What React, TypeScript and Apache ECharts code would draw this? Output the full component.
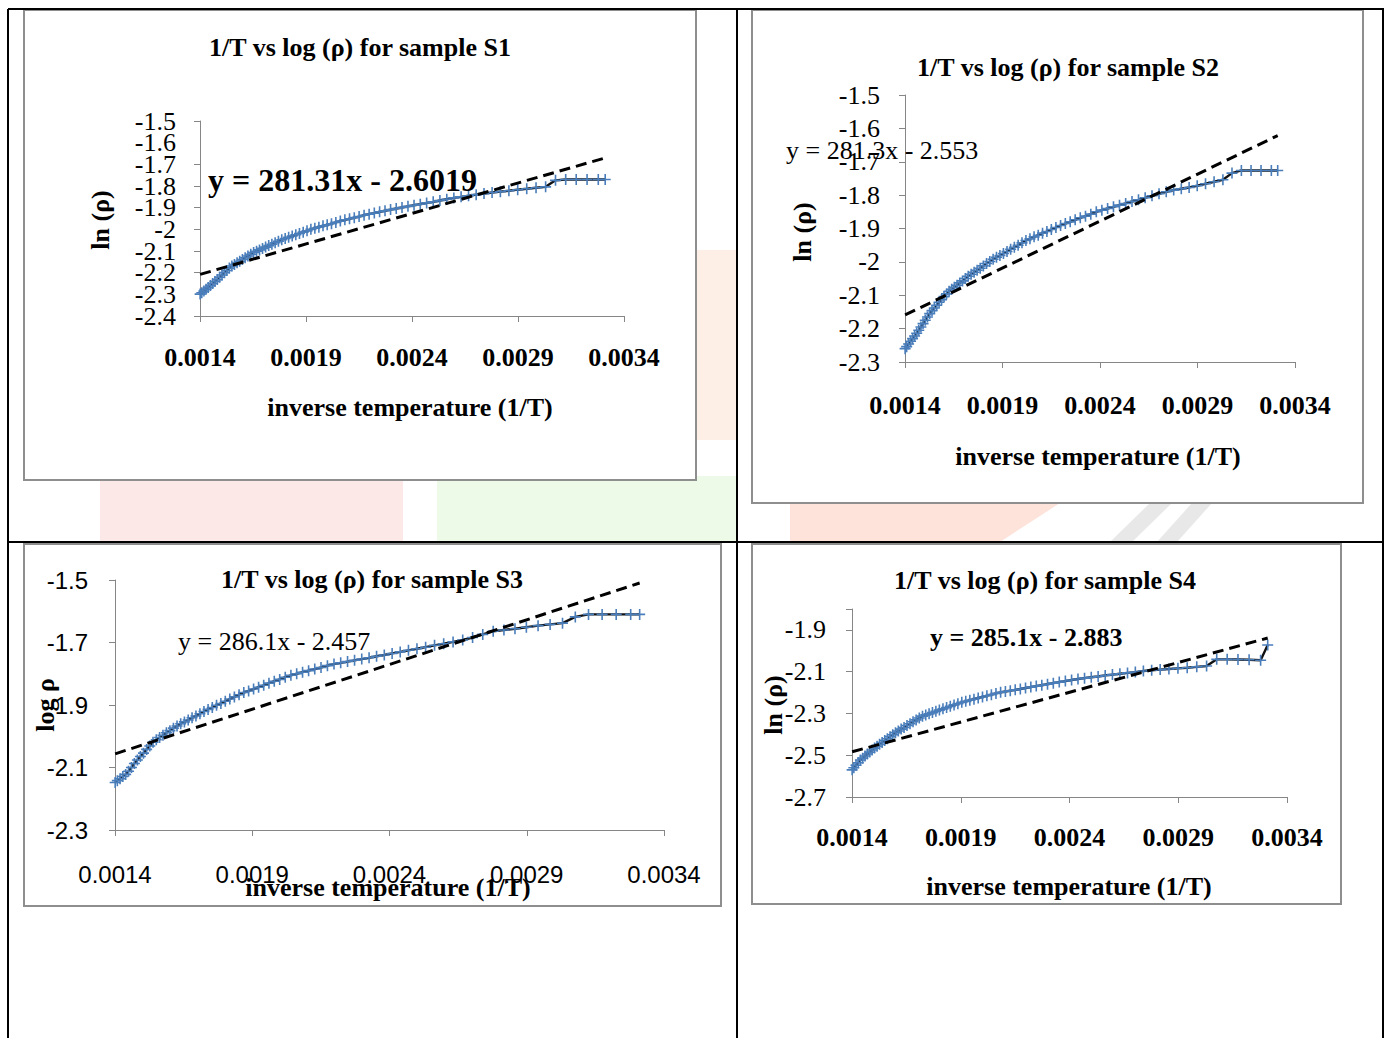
import React, { useEffect, useRef } from "react";
import * as echarts from "echarts";

// inverse temperature samples (1/T), shared by all four samples
const xInv = [
  0.0014006, 0.0014085, 0.0014184, 0.0014286, 0.0014388, 0.0014493, 0.0014599, 0.0014706, 0.0014815, 0.0014925,
  0.0015038, 0.0015152, 0.0015267, 0.0015385, 0.0015504, 0.0015625, 0.0015748, 0.0015873, 0.0016, 0.0016129,
  0.001626, 0.0016393, 0.0016529, 0.0016667, 0.0016807, 0.0016949, 0.0017094, 0.0017241, 0.0017391, 0.0017544,
  0.0017699, 0.0017857, 0.0018018, 0.0018182, 0.0018349, 0.0018519, 0.0018692, 0.0018868, 0.0019048, 0.0019231,
  0.0019417, 0.0019608, 0.0019802, 0.002, 0.0020202, 0.0020408, 0.0020619, 0.0020833, 0.0021053, 0.0021277,
  0.0021505, 0.0021739, 0.0021978, 0.0022222, 0.0022472, 0.0022727, 0.0022989, 0.0023256, 0.0023529, 0.002381,
  0.0024096, 0.002439, 0.0024691, 0.0025, 0.0025316, 0.0025641, 0.0025974, 0.0026316, 0.0026667, 0.0027027,
  0.0027397, 0.0027778, 0.0028169, 0.0028571, 0.0028986, 0.0029412, 0.0029851, 0.0030303, 0.0030769, 0.003125,
  0.0031746, 0.0032258, 0.0032787, 0.0033113,
];

const s1Y = [
  -2.299, -2.293, -2.285, -2.276, -2.268, -2.259, -2.25, -2.241, -2.232, -2.221,
  -2.211, -2.2, -2.19, -2.179, -2.169, -2.162, -2.154, -2.147, -2.139, -2.131,
  -2.123, -2.115, -2.107, -2.101, -2.095, -2.088, -2.082, -2.075, -2.069, -2.062,
  -2.055, -2.048, -2.042, -2.037, -2.031, -2.025, -2.019, -2.013, -2.007, -2.0,
  -1.995, -1.99, -1.984, -1.979, -1.974, -1.968, -1.962, -1.956, -1.951, -1.946,
  -1.941, -1.935, -1.93, -1.925, -1.919, -1.914, -1.909, -1.904, -1.899, -1.894,
  -1.889, -1.884, -1.878, -1.873, -1.867, -1.861, -1.855, -1.85, -1.845, -1.84,
  -1.835, -1.83, -1.826, -1.822, -1.817, -1.813, -1.808, -1.804, -1.774, -1.77,
  -1.77, -1.77, -1.77, -1.77,
];

const s2Y = [
  -2.26, -2.254, -2.246, -2.238, -2.23, -2.222, -2.214, -2.205, -2.195, -2.185,
  -2.175, -2.165, -2.155, -2.146, -2.138, -2.13, -2.121, -2.113, -2.104, -2.096,
  -2.088, -2.082, -2.076, -2.07, -2.063, -2.057, -2.05, -2.043, -2.037, -2.031,
  -2.025, -2.019, -2.012, -2.005, -1.999, -1.992, -1.986, -1.981, -1.975, -1.969,
  -1.962, -1.956, -1.95, -1.943, -1.936, -1.931, -1.925, -1.92, -1.914, -1.909,
  -1.903, -1.897, -1.891, -1.885, -1.88, -1.874, -1.868, -1.863, -1.857, -1.85,
  -1.845, -1.84, -1.835, -1.83, -1.825, -1.819, -1.814, -1.808, -1.802, -1.796,
  -1.79, -1.785, -1.781, -1.777, -1.772, -1.766, -1.76, -1.754, -1.734, -1.726,
  -1.726, -1.726, -1.726, -1.726,
];

const s3Y = [
  -2.148, -2.142, -2.136, -2.129, -2.122, -2.112, -2.1, -2.087, -2.076, -2.065,
  -2.054, -2.042, -2.031, -2.019, -2.011, -2.004, -1.997, -1.989, -1.982, -1.974,
  -1.967, -1.96, -1.954, -1.948, -1.941, -1.935, -1.928, -1.921, -1.914, -1.908,
  -1.901, -1.895, -1.888, -1.881, -1.874, -1.867, -1.86, -1.855, -1.849, -1.843,
  -1.837, -1.83, -1.824, -1.818, -1.811, -1.805, -1.8, -1.795, -1.79, -1.785,
  -1.78, -1.774, -1.769, -1.765, -1.761, -1.757, -1.753, -1.749, -1.744, -1.74,
  -1.735, -1.73, -1.725, -1.72, -1.715, -1.709, -1.704, -1.698, -1.692, -1.684,
  -1.674, -1.664, -1.66, -1.656, -1.651, -1.646, -1.642, -1.638, -1.618, -1.61,
  -1.61, -1.61, -1.61, -1.61,
];

const s4Y = [
  -2.57, -2.56, -2.548, -2.536, -2.523, -2.514, -2.504, -2.494, -2.485, -2.475,
  -2.466, -2.457, -2.448, -2.439, -2.43, -2.421, -2.411, -2.402, -2.392, -2.384,
  -2.375, -2.367, -2.358, -2.349, -2.34, -2.331, -2.322, -2.313, -2.307, -2.302,
  -2.296, -2.29, -2.284, -2.278, -2.272, -2.266, -2.259, -2.253, -2.247, -2.242,
  -2.237, -2.232, -2.226, -2.221, -2.215, -2.21, -2.204, -2.199, -2.195, -2.191,
  -2.187, -2.183, -2.178, -2.174, -2.169, -2.165, -2.16, -2.155, -2.15, -2.145,
  -2.14, -2.135, -2.131, -2.127, -2.123, -2.118, -2.114, -2.11, -2.106, -2.102,
  -2.097, -2.093, -2.09, -2.087, -2.084, -2.081, -2.077, -2.073, -2.041, -2.041,
  -2.042, -2.043, -2.045, -1.972,
];

// linear trend lines shown in the chart
const trendSlope = [281.31, 281.3, 286.1, 285.1];
const trendIntercept = [-2.6019, -2.553, -2.457, -2.883];

const titles = [
  "1/T vs log (ρ) for sample S1",
  "1/T vs log (ρ) for sample S2",
  "1/T vs log (ρ) for sample S3",
  "1/T vs log (ρ) for sample S4",
];
const equations = ["y = 281.31x - 2.6019", "y = 281.3x - 2.553", "y = 286.1x - 2.457", "y = 285.1x - 2.883"];
const yNames = ["ln (ρ)", "ln (ρ)", "log ρ", "ln (ρ)"];
const xName = "inverse temperature (1/T)";

const xMin = 0.0014;
const xMax = 0.0034;
const xStep = 0.0005;
const yMins = [-2.4, -2.3, -2.3, -2.7];
const yMaxs = [-1.5, -1.5, -1.5, -1.8];
const ySteps = [0.1, 0.1, 0.2, 0.2];

const seriesY = [s1Y, s2Y, s3Y, s4Y];

const SERIF = '"Liberation Serif", "Times New Roman", serif';
const SANS = '"Liberation Sans", Arial, sans-serif';

const layout = [
  {
    grid: { left: 200, top: 121, width: 424, height: 195 },
    xLab: { font: SERIF, size: 26, weight: "bold", margin: 28 },
    yLab: { font: SERIF, size: 26, weight: "normal", margin: 24 },
    title: [360, 47],
    eq: { x: 208, y: 180, size: 32, weight: "bold" },
    yName: [100, 220],
    xName: [410, 407],
    hideMax: false,
  },
  {
    grid: { left: 905, top: 95, width: 390, height: 267 },
    xLab: { font: SERIF, size: 26, weight: "bold", margin: 30 },
    yLab: { font: SERIF, size: 26, weight: "normal", margin: 25 },
    title: [1068, 67],
    eq: { x: 786, y: 150, size: 26, weight: "normal" },
    yName: [802, 232],
    xName: [1098, 456],
    hideMax: false,
  },
  {
    grid: { left: 115, top: 580, width: 549, height: 250 },
    xLab: { font: SANS, size: 24, weight: "normal", margin: 32 },
    yLab: { font: SANS, size: 24, weight: "normal", margin: 27 },
    title: [372, 579],
    eq: { x: 178, y: 641, size: 26, weight: "normal" },
    yName: [45, 705],
    xName: [388, 887],
    hideMax: false,
  },
  {
    grid: { left: 852, top: 609, width: 435, height: 188 },
    xLab: { font: SERIF, size: 26, weight: "bold", margin: 27 },
    yLab: { font: SERIF, size: 26, weight: "normal", margin: 26 },
    title: [1045, 580],
    eq: { x: 930, y: 637, size: 26, weight: "bold" },
    yName: [773, 705],
    xName: [1069, 886],
    hideMax: true,
  },
];

const boxes = [
  [24, 10, 672, 470],
  [752, 10, 611, 493],
  [24, 544, 697, 362],
  [752, 544, 589, 360],
];

const fmtY = (v: number) => String(Math.round(v * 10) / 10);

export default function App() {
  const ref = useRef<HTMLDivElement>(null);

  useEffect(() => {
    if (!ref.current) return;
    const chart = echarts.init(ref.current, null, { renderer: "svg" });

    const grids = layout.map((l) => ({ ...l.grid, containLabel: false }));

    const xAxes = layout.map((l, i) => ({
      type: "value",
      gridIndex: i,
      min: xMin,
      max: xMax,
      interval: xStep,
      splitLine: { show: false },
      axisLine: { show: true, onZero: false, lineStyle: { color: "#868686", width: 1 } },
      axisTick: { show: true, length: 6, lineStyle: { color: "#868686" } },
      axisLabel: {
        formatter: (v: number) => v.toFixed(4),
        margin: l.xLab.margin,
        showMinLabel: true,
        showMaxLabel: true,
        hideOverlap: false,
        color: "#000",
        fontFamily: l.xLab.font,
        fontSize: l.xLab.size,
        fontWeight: l.xLab.weight,
      },
    }));

    const yAxes: any[] = layout.map((l, i) => ({
      type: "value",
      gridIndex: i,
      position: "left",
      min: yMins[i],
      max: yMaxs[i],
      interval: ySteps[i],
      splitLine: { show: false },
      axisLine: { show: true, onZero: false, lineStyle: { color: "#868686", width: 1 } },
      axisTick: { show: true, length: 6, lineStyle: { color: "#868686" } },
      axisLabel: {
        formatter: (v: number) => {
          if (l.hideMax && Math.abs(v - yMaxs[i]) < 1e-9) return "";
          return fmtY(v);
        },
        margin: l.yLab.margin,
        showMinLabel: true,
        showMaxLabel: true,
        hideOverlap: false,
        color: "#000",
        fontFamily: l.yLab.font,
        fontSize: l.yLab.size,
        fontWeight: l.yLab.weight,
      },
    }));
    // companion axis for the crowded S1 scale: carries the labels next to the ends
    yAxes.push({
      type: "value",
      gridIndex: 0,
      position: "left",
      offset: 0,
      min: yMins[0],
      max: yMaxs[0],
      interval: ySteps[0],
      splitLine: { show: false },
      axisLine: { show: false },
      axisTick: { show: false },
      axisLabel: {
        formatter: (v: number) => {
          const r = Math.round(v * 10) / 10;
          return r === -1.6 || r === -2.3 ? fmtY(v) : "";
        },
        margin: layout[0].yLab.margin,
        showMinLabel: false,
        showMaxLabel: false,
        hideOverlap: false,
        color: "#000",
        fontFamily: layout[0].yLab.font,
        fontSize: layout[0].yLab.size,
        fontWeight: layout[0].yLab.weight,
      },
    });

    const series: any[] = [];
    seriesY.forEach((ys, i) => {
      series.push({
        type: "line",
        xAxisIndex: i,
        yAxisIndex: i,
        data: xInv.map((x, k) => [x, ys[k]]),
        symbol: "path://M5 0L5 10M0 5L10 5",
        symbolSize: 11,
        showSymbol: true,
        itemStyle: { color: "#4a7ebb", borderColor: "#4a7ebb", borderWidth: 1.6 },
        lineStyle: { color: "#111", width: 2.4 },
        z: 2,
      });
      const x0 = xInv[0];
      const x1 = xInv[xInv.length - 1];
      series.push({
        type: "line",
        xAxisIndex: i,
        yAxisIndex: i,
        data: [
          [x0, trendSlope[i] * x0 + trendIntercept[i]],
          [x1, trendSlope[i] * x1 + trendIntercept[i]],
        ],
        symbol: "none",
        lineStyle: { color: "#000", width: 3, type: [11, 6] },
        z: 3,
      });
    });

    const graphic: any[] = [];
    // faint background watermark
    graphic.push(
      { type: "rect", z: -20, shape: { x: 100, y: 480, width: 303, height: 62 }, style: { fill: "#fde8e8" } },
      { type: "rect", z: -20, shape: { x: 437, y: 476, width: 300, height: 66 }, style: { fill: "#eefae8" } },
      { type: "rect", z: -20, shape: { x: 696, y: 250, width: 41, height: 190 }, style: { fill: "#fdefe6" } },
      {
        type: "polygon",
        z: -20,
        shape: { points: [[790, 503], [1060, 503], [1000, 542], [790, 542]] },
        style: { fill: "#fde3da" },
      },
      {
        type: "polygon",
        z: -20,
        shape: { points: [[1150, 503], [1172, 503], [1132, 542], [1110, 542]] },
        style: { fill: "#e8e8e8" },
      },
      {
        type: "polygon",
        z: -20,
        shape: { points: [[1192, 503], [1212, 503], [1177, 542], [1157, 542]] },
        style: { fill: "#e8e8e8" },
      }
    );
    // chart boxes
    boxes.forEach((b) => {
      graphic.push({
        type: "rect",
        z: -10,
        shape: { x: b[0], y: b[1], width: b[2], height: b[3] },
        style: { fill: "#ffffff", stroke: "#8e8e8e", lineWidth: 2 },
      });
    });
    // table lines
    const tl = (x1: number, y1: number, x2: number, y2: number) => ({
      type: "line",
      z: 20,
      shape: { x1, y1, x2, y2 },
      style: { stroke: "#000", lineWidth: 2 },
    });
    graphic.push(tl(8, 9, 1384, 9), tl(8, 9, 8, 1038), tl(737, 9, 737, 1038), tl(1383, 9, 1383, 1038), tl(8, 542, 1384, 542));

    layout.forEach((l, i) => {
      graphic.push({
        type: "text",
        z: 10,
        x: l.title[0],
        y: l.title[1],
        style: {
          text: titles[i],
          align: "center",
          verticalAlign: "middle",
          fontFamily: SERIF,
          fontSize: 26,
          fontWeight: "bold",
          fill: "#000",
        },
      });
      graphic.push({
        type: "text",
        z: 10,
        x: l.eq.x,
        y: l.eq.y,
        style: {
          text: equations[i],
          align: "left",
          verticalAlign: "middle",
          fontFamily: SERIF,
          fontSize: l.eq.size,
          fontWeight: l.eq.weight,
          fill: "#000",
        },
      });
      graphic.push({
        type: "text",
        z: 10,
        x: l.yName[0],
        y: l.yName[1],
        rotation: Math.PI / 2,
        style: {
          text: yNames[i],
          align: "center",
          verticalAlign: "middle",
          fontFamily: SERIF,
          fontSize: 26,
          fontWeight: "bold",
          fill: "#000",
        },
      });
      graphic.push({
        type: "text",
        z: 10,
        x: l.xName[0],
        y: l.xName[1],
        style: {
          text: xName,
          align: "center",
          verticalAlign: "middle",
          fontFamily: SERIF,
          fontSize: 26,
          fontWeight: "bold",
          fill: "#000",
        },
      });
    });

    chart.setOption({
      animation: false,
      backgroundColor: "#ffffff",
      grid: grids,
      xAxis: xAxes,
      yAxis: yAxes,
      series,
      graphic: { elements: graphic },
    });

    return () => chart.dispose();
  }, []);

  return (
    <div
      ref={ref}
      style={{ position: "absolute", left: 0, top: 0, width: 1384, height: 1038 }}
    />
  );
}
